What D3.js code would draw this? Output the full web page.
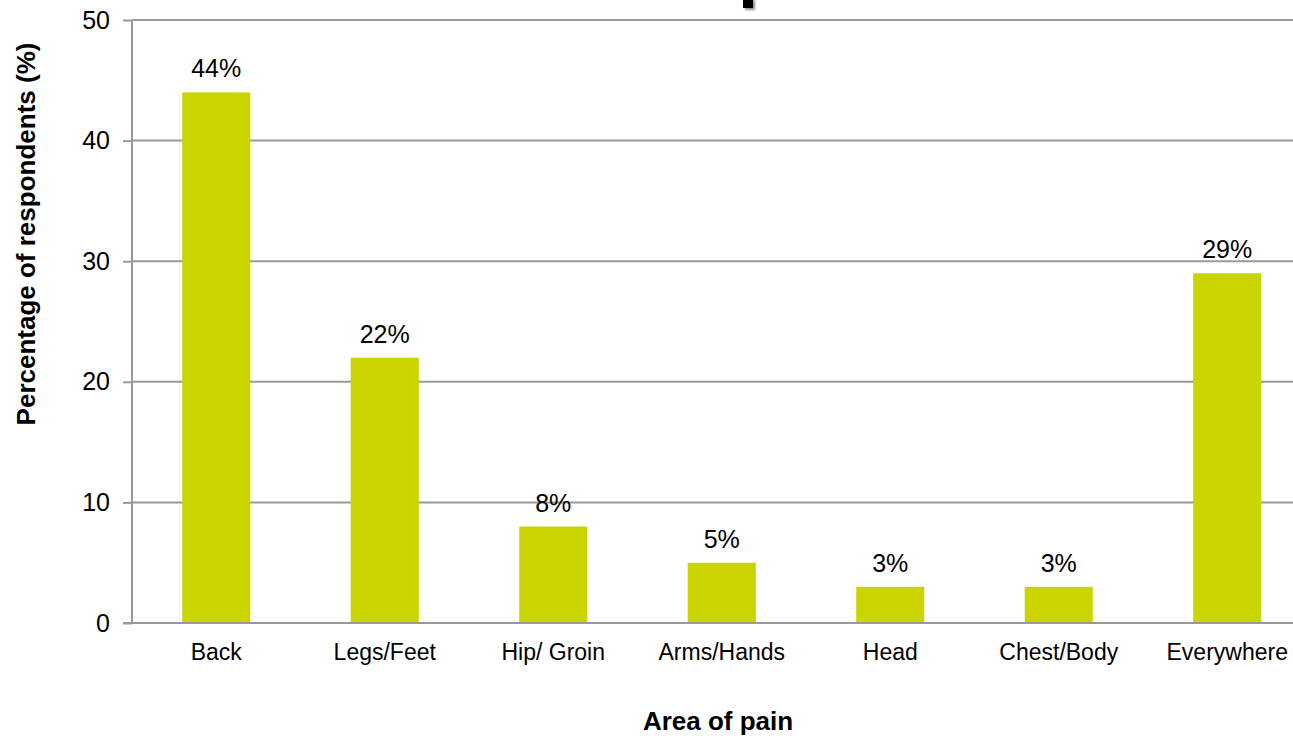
<!DOCTYPE html>
<html>
<head>
<meta charset="utf-8">
<script src="https://cdn.jsdelivr.net/npm/d3@7"></script>
<style>
  html, body { margin: 0; padding: 0; background: #fff; }
  svg { display: block; font-family: "Liberation Sans", Arial, sans-serif; }
</style>
</head>
<body>
<svg id="chart" width="1293" height="739"></svg>
<script>
// Areas of pain reported, percentage of respondents
const categories = ["Back", "Legs/Feet", "Hip/ Groin", "Arms/Hands", "Head", "Chest/Body", "Everywhere"];
const percentages = [44, 22, 8, 5, 3, 3, 29];
const yTicks = [0, 10, 20, 30, 40, 50];

const svg = d3.select("#chart");
const plotLeft = 132, plotRight = 1311.5, plotTop = 20, plotBottom = 623;

const x = d3.scaleBand().domain(categories).range([plotLeft, plotRight]).padding(0);
const y = d3.scaleLinear().domain([0, 50]).range([plotBottom, plotTop]);
const barW = x.bandwidth() * 0.404;

// fragment of the heading that sits above the frame
const defs = svg.append("defs");
const f = defs.append("filter").attr("id", "shadow").attr("x", "-50%").attr("y", "-50%").attr("width", "200%").attr("height", "200%");
f.append("feDropShadow").attr("dx", 2).attr("dy", 2).attr("stdDeviation", 1.2).attr("flood-color", "#000").attr("flood-opacity", 0.45);
svg.append("rect").attr("x", 743).attr("y", -2).attr("width", 10).attr("height", 10)
  .attr("fill", "#000").attr("filter", "url(#shadow)");

// horizontal gridlines
svg.append("g").selectAll("line").data(yTicks.filter(d => d > 0)).join("line")
  .attr("x1", plotLeft).attr("x2", 1293)
  .attr("y1", d => y(d)).attr("y2", d => y(d))
  .attr("stroke", "#999").attr("stroke-width", 2);

// bars
svg.append("g").selectAll("rect").data(percentages).join("rect")
  .attr("x", (d, i) => x(categories[i]) + x.bandwidth() / 2 - barW / 2)
  .attr("width", barW)
  .attr("y", d => y(d))
  .attr("height", d => y(0) - y(d))
  .attr("fill", "#c9d400");

// value labels
svg.append("g").selectAll("text").data(percentages).join("text")
  .attr("x", (d, i) => x(categories[i]) + x.bandwidth() / 2)
  .attr("y", d => y(d) - 15)
  .attr("text-anchor", "middle")
  .attr("font-size", 25)
  .attr("fill", "#000")
  .text(d => d + "%");

// y axis
const yAxis = svg.append("g").attr("transform", `translate(${plotLeft},0)`)
  .call(d3.axisLeft(y).tickValues(yTicks).tickSize(9).tickPadding(13).tickFormat(d3.format("d")));
yAxis.select(".domain").attr("stroke", "#999").attr("stroke-width", 2).attr("d", `M0,${plotTop}V${plotBottom}`);
yAxis.selectAll(".tick line").attr("stroke", "#999").attr("stroke-width", 2);
yAxis.selectAll(".tick text").attr("font-size", 25).attr("fill", "#000").attr("font-family", "Liberation Sans, Arial, sans-serif");

// x axis
const xAxis = svg.append("g").attr("transform", `translate(0,${plotBottom})`)
  .call(d3.axisBottom(x).tickSize(0).tickPadding(21));
xAxis.select(".domain").attr("stroke", "#999").attr("stroke-width", 2).attr("d", `M${plotLeft - 9},0H1293`);
xAxis.selectAll(".tick text").attr("font-size", 23).attr("fill", "#000").attr("font-family", "Liberation Sans, Arial, sans-serif");

// axis titles
svg.append("text")
  .attr("x", 718).attr("y", 730)
  .attr("text-anchor", "middle").attr("font-size", 26).attr("font-weight", "bold")
  .text("Area of pain");

svg.append("text")
  .attr("transform", "translate(35,234) rotate(-90)")
  .attr("text-anchor", "middle").attr("font-size", 26).attr("font-weight", "bold")
  .text("Percentage of respondents (%)");
</script>
</body>
</html>
